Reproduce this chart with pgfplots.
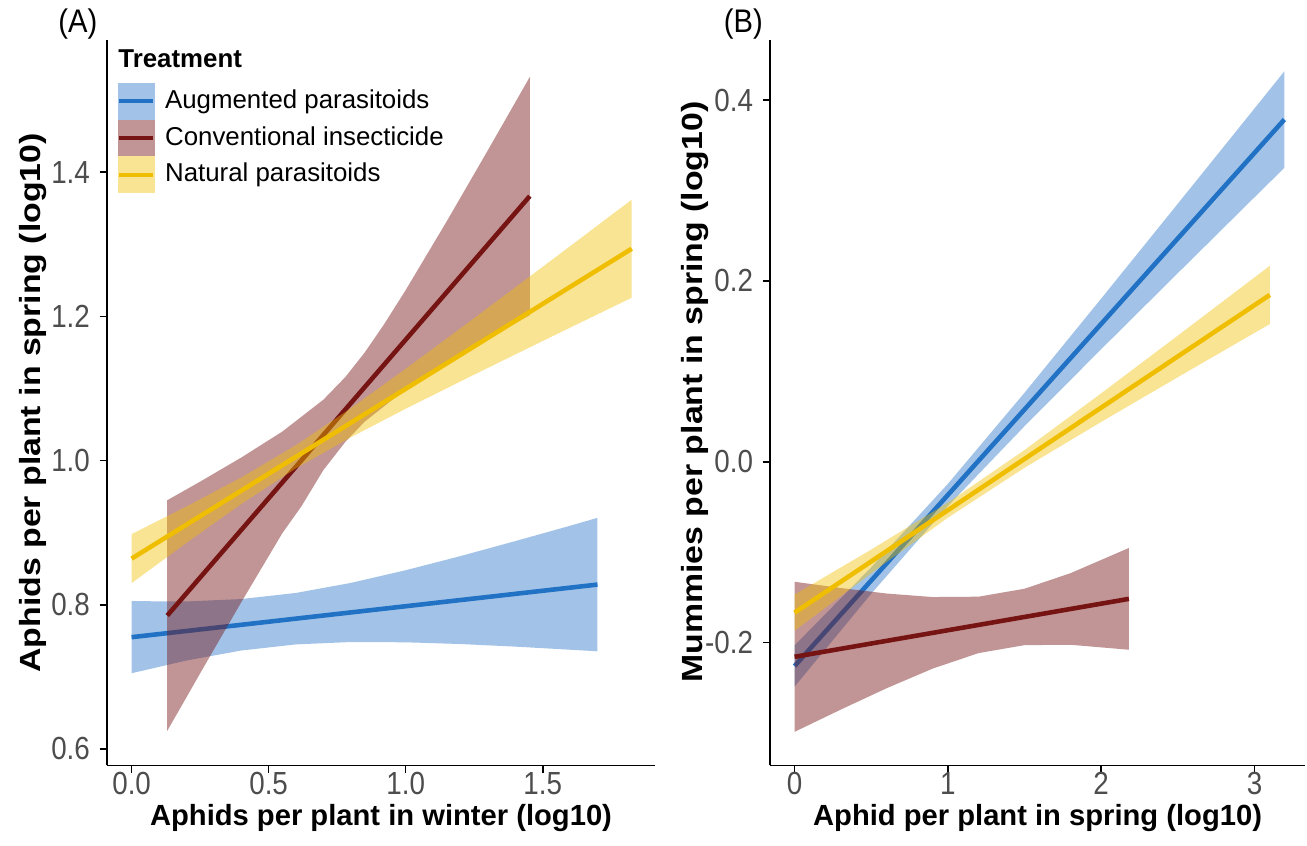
\documentclass[border=0pt]{standalone}
\usepackage{fontspec}
\setmainfont{Liberation Sans}
\usepackage{graphicx}
\usepackage{pgfplots}
\pgfplotsset{compat=1.18}

\definecolor{augC}{RGB}{33,113,197}
\definecolor{conC}{RGB}{118,20,20}
\definecolor{natC}{RGB}{240,190,0}
\definecolor{tickC}{RGB}{77,77,77}

\pgfplotsset{
  panel/.style={
    scale only axis,
    anchor=south west,
    height=261pt,
    axis x line*=bottom,
    axis y line*=left,
    axis line style={line width=0.7pt, black},
    tick align=outside,
    major tick length=2.6pt,
    tick style={line width=0.6pt, black},
    xtick pos=bottom, ytick pos=left,
    ticklabel style={font=\fontsize{10}{12}\selectfont, text=tickC},
    xticklabel style={yshift=3.6pt},
    /pgf/number format/assume math mode=true,
    label style={font=\fontsize{10.5}{12}\selectfont\bfseries},
    xlabel style={at={(axis description cs:0.5,-0.072)}, anchor=center},
    clip=false,
  },
  rib/.style={draw=none, fill=#1, fill opacity=0.42, forget plot},
  fit/.style={draw=#1, line width=1.65pt, mark=none},
}

\begin{document}
\begin{tikzpicture}
\path (0,0) rectangle (470.5pt,304.2pt);

% ---------- panel A
\begin{axis}[panel,
  at={(38.5pt,28.8pt)}, width=197.3pt,
  xmin=-0.09, xmax=1.91, ymin=0.577, ymax=1.583,
  xtick={0,0.5,1,1.5}, ytick={0.6,0.8,1.0,1.2,1.4},
  xticklabel={\scalebox{1}[1.15]{\pgfmathprintnumber[fixed,fixed zerofill,precision=1]{\tick}}},
  yticklabel={\scalebox{1}[1.15]{\pgfmathprintnumber[fixed,fixed zerofill,precision=1]{\tick}}},
  xlabel={Aphids per plant in winter (log10)},
  ylabel={\scalebox{1.16}[1]{Aphids per plant in spring (log10)}},
  ylabel style={at={(axis description cs:-0.135,0.5)}, anchor=center},
  legend style={at={(rel axis cs:0.018,0.942)}, anchor=north west,
    draw=none, fill=none, row sep=0pt, column sep=3.5pt, inner sep=0pt,
    nodes={inner sep=0pt, font=\fontsize{9.3}{11}\selectfont}},
  legend cell align=left,
]
% Augmented parasitoids
\addplot[rib=augC] coordinates {
 (0,0.805) (0.2,0.8046) (0.4,0.8079) (0.6,0.8164) (0.8,0.8303) (1.0,0.8479) (1.2,0.8675) (1.4,0.8883) (1.6,0.9096) (1.7,0.9206)
 (1.7,0.7354) (1.6,0.7376) (1.4,0.7419) (1.2,0.7455) (1.0,0.7479) (0.8,0.7483) (0.6,0.745) (0.4,0.7365) (0.2,0.7226) (0,0.705)};
\addplot[fit=augC, legend image code/.code={
   \path[fill=augC, fill opacity=0.42, draw=none] (0pt,-6.6pt) rectangle (13.4pt,6.6pt);
   \path[draw=augC, line width=1.5pt] (0.6pt,0pt) -- (12.8pt,0pt);}]
 coordinates {(0,0.755) (1.7,0.828)};
\addlegendentry{Augmented parasitoids}
% Conventional insecticide
\addplot[rib=conC, fill opacity=0.45] coordinates {
 (0.13,0.945) (0.25,0.9708) (0.4,1.0042) (0.55,1.0403) (0.7,1.0846) (0.78,1.116) (0.85,1.1497) (0.92,1.1884) (1.0,1.2365) (1.15,1.3321) (1.3,1.4306) (1.453,1.5323)
 (1.453,1.2019) (1.3,1.169) (1.15,1.1355) (1.0,1.0991) (0.85,1.0539) (0.78,1.026) (0.7,0.987) (0.62,0.9368) (0.55,0.8993) (0.4,0.8034) (0.25,0.7048) (0.13,0.625)};
\addplot[fit=conC, legend image code/.code={
   \path[fill=conC, fill opacity=0.45, draw=none] (0pt,-6.6pt) rectangle (13.4pt,6.6pt);
   \path[draw=conC, line width=1.5pt] (0.6pt,0pt) -- (12.8pt,0pt);}]
 coordinates {(0.13,0.785) (1.453,1.367)};
\addlegendentry{Conventional insecticide}
% Natural parasitoids
\addplot[rib=natC] coordinates {
 (0,0.898) (0.2,0.9363) (0.4,0.9765) (0.6,1.0215) (0.8,1.0726) (1.0,1.1273) (1.2,1.1835) (1.4,1.2403) (1.6,1.2975) (1.825,1.362)
 (1.825,1.226) (1.6,1.1845) (1.4,1.1473) (1.2,1.1099) (1.0,1.0719) (0.8,1.0324) (0.6,0.9893) (0.4,0.9399) (0.2,0.8859) (0,0.830)};
\addplot[fit=natC, legend image code/.code={
   \path[fill=natC, fill opacity=0.42, draw=none] (0pt,-6.6pt) rectangle (13.4pt,6.6pt);
   \path[draw=natC, line width=1.5pt] (0.6pt,0pt) -- (12.8pt,0pt);}]
 coordinates {(0,0.864) (1.825,1.294)};
\addlegendentry{Natural parasitoids}

\node[anchor=west, font=\fontsize{9.3}{11}\selectfont\bfseries, inner sep=0pt]
  at (rel axis cs:0.02,0.975) {Treatment};
\node[font=\fontsize{10.5}{12}\selectfont] at (rel axis cs:-0.053,1.022) {\scalebox{1}[1.12]{(A)}};
\end{axis}

% ---------- panel B
\begin{axis}[panel,
  at={(277.2pt,28.8pt)}, width=192.6pt,
  xmin=-0.16, xmax=3.33, ymin=-0.336, ymax=0.466,
  xtick={0,1,2,3}, ytick={-0.2,0,0.2,0.4},
  xticklabel={\scalebox{1}[1.15]{\pgfmathprintnumber[fixed,precision=0]{\tick}}},
  yticklabel={\scalebox{1}[1.15]{\pgfmathprintnumber[fixed,fixed zerofill,precision=1]{\tick}}},
  xlabel={Aphid per plant in spring (log10)},
  ylabel={\scalebox{1.16}[1]{Mummies per plant in spring (log10)}},
  ylabel style={at={(axis description cs:-0.14,0.515)}, anchor=center},
]
\addplot[rib=augC] coordinates {
 (0,-0.2032) (0.5,-0.1168) (1,-0.0245) (1.5,0.0763) (2,0.1804) (2.5,0.2854) (3,0.3907) (3.195,0.4319)
 (3.195,0.3251) (3,0.2925) (2.5,0.2086) (2,0.1244) (1.5,0.0393) (1,-0.0491) (0.5,-0.146) (0,-0.2488)};
\addplot[fit=augC] coordinates {(0,-0.226) (3.195,0.3785)};
\addplot[rib=conC, fill opacity=0.45] coordinates {
 (0,-0.1328) (0.3,-0.1397) (0.6,-0.1458) (0.9,-0.1497) (1.2,-0.1493) (1.5,-0.1405) (1.8,-0.1233) (2.181,-0.0954)
 (2.181,-0.208) (1.8,-0.2025) (1.5,-0.2029) (1.2,-0.2117) (0.9,-0.2289) (0.6,-0.2506) (0.3,-0.2743) (0,-0.2988)};
\addplot[fit=conC] coordinates {(0,-0.2158) (2.181,-0.1517)};
\addplot[rib=natC] coordinates {
 (0,-0.147) (0.5,-0.0972) (1,-0.0453) (1.5,0.0129) (2,0.0756) (2.5,0.1395) (3.1,0.2167)
 (3.1,0.1523) (2.5,0.0935) (2,0.044) (1.5,-0.0067) (1,-0.0619) (0.5,-0.1234) (0,-0.187)};
\addplot[fit=natC] coordinates {(0,-0.167) (3.1,0.1845)};

\node[font=\fontsize{10.5}{12}\selectfont] at (rel axis cs:-0.05,1.022) {\scalebox{1}[1.12]{(B)}};
\end{axis}
\end{tikzpicture}
\end{document}
